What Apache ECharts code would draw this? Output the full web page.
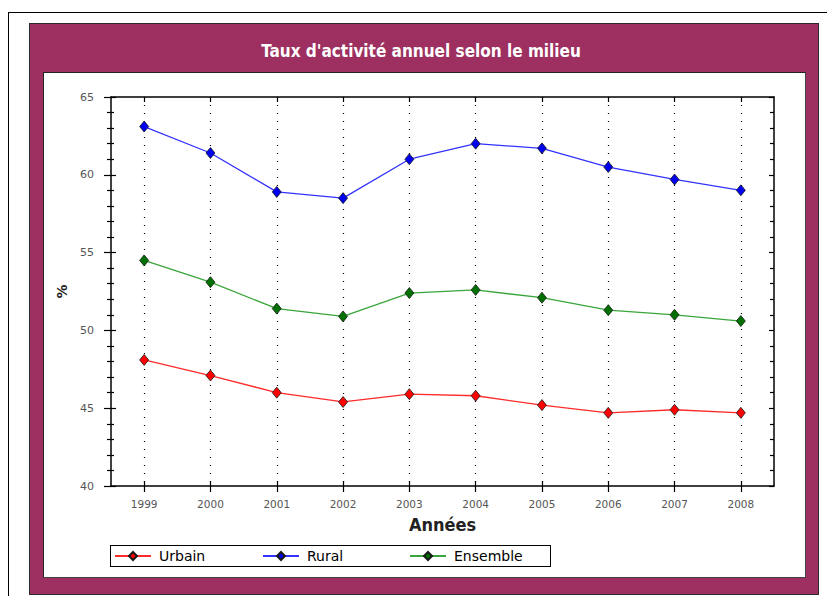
<!DOCTYPE html>
<html>
<head>
<meta charset="utf-8">
<script src="https://cdn.jsdelivr.net/npm/echarts@6/dist/echarts.min.js"></script>
<style>
  html, body { margin: 0; padding: 0; background: #fff; }
  #wrap { position: relative; width: 827px; height: 596px; overflow: hidden; }
  .outer { position: absolute; left: 8px; top: 12px; width: 840px; height: 620px; border: 1.5px solid #000; box-sizing: border-box; }
  .maroon { position: absolute; left: 29px; top: 23px; width: 790px; height: 572px; background: #9d3060; border: 1px solid #2a2a2a; box-sizing: border-box; }
  .inner { position: absolute; left: 43px; top: 72px; width: 763px; height: 506px; background: #fff; border-left: 1.5px solid #222; border-top: 1.5px solid #222; border-right: 1.5px solid #444; border-bottom: 1.5px solid #444; box-sizing: border-box; }
  .legbox { position: absolute; left: 110px; top: 545px; width: 441px; height: 22px; border: 1.5px solid #000; box-sizing: border-box; }
  #chart { position: absolute; left: 0; top: 0; width: 827px; height: 596px; }
</style>
</head>
<body>
<div id="wrap">
  <div class="outer"></div>
  <div class="maroon"></div>
  <div class="inner"></div>
  <div class="legbox"></div>
  <div id="chart"></div>
</div>
<script>
const titleText = "Taux d'activité annuel selon le milieu";
const years = ['1999','2000','2001','2002','2003','2004','2005','2006','2007','2008'];
const urbain = [48.1, 47.1, 46.0, 45.4, 45.9, 45.8, 45.2, 44.7, 44.9, 44.7];
const rural = [63.1, 61.4, 58.9, 58.5, 61.0, 62.0, 61.7, 60.5, 59.7, 59.0];
const ensemble = [54.5, 53.1, 51.4, 50.9, 52.4, 52.6, 52.1, 51.3, 51.0, 50.6];
const seriesNames = ['Urbain', 'Rural', 'Ensemble'];
const yTicks = { min: 40, max: 65, interval: 5 };

const chart = echarts.init(document.getElementById('chart'), null, { renderer: 'svg' });

const labelColor = '#555';
const gridBox = { left: 111, top: 97, width: 663, height: 389 };
const narrowFont = "'Liberation Sans Narrow', 'DejaVu Sans Condensed', sans-serif";

function mkSeries(name, data, lineColor, fill) {
  return {
    name: name, type: 'line', data: data,
    xAxisIndex: 0, yAxisIndex: 0,
    symbol: 'diamond', symbolSize: [9, 11],
    lineStyle: { color: lineColor, width: 1.3 },
    itemStyle: { color: fill, borderColor: '#1a1a1a', borderWidth: 0.8 },
    emphasis: { disabled: true },
    animation: false, z: 5
  };
}

const legendCommon = {
  top: 549, padding: 0, itemWidth: 36, itemHeight: 10, itemGap: 0,
  textStyle: { fontFamily: 'DejaVu Sans', fontSize: 14, color: '#000', padding: [0, 0, 0, 3] }
};

const option = {
  animation: false,
  title: {
    text: titleText, left: 416, textAlign: 'center', top: 37,
    textStyle: { fontFamily: narrowFont, fontWeight: 'bold', fontSize: 17, color: '#fff' }
  },
  legend: [
    Object.assign({ left: 114, data: [seriesNames[0]] }, legendCommon),
    Object.assign({ left: 262, data: [seriesNames[1]] }, legendCommon),
    Object.assign({ left: 409, data: [seriesNames[2]] }, legendCommon)
  ],
  grid: Object.assign({ containLabel: false }, gridBox),
  xAxis: [
    {
      type: 'category', data: years, position: 'bottom', boundaryGap: true,
      name: 'Années', nameLocation: 'middle', nameGap: 29,
      nameTextStyle: { fontFamily: narrowFont, fontWeight: 'bold', fontSize: 18, color: '#222' },
      axisLine: { lineStyle: { color: '#000', width: 1.5 } },
      axisTick: { show: true, inside: false, length: 6, alignWithLabel: true, lineStyle: { color: '#000', width: 1.2 } },
      axisLabel: { margin: 12, color: labelColor, fontFamily: 'DejaVu Sans', fontSize: 10.5 },
      splitLine: { show: true, alignWithLabel: true, lineStyle: { color: '#000', type: [1, 7], width: 1.2 } }
    },
    {
      type: 'category', data: years, position: 'top', boundaryGap: true,
      axisLine: { lineStyle: { color: '#000', width: 1.5 } },
      axisTick: { show: true, inside: true, length: 5, alignWithLabel: true, lineStyle: { color: '#000', width: 1.2 } },
      axisLabel: { show: false }, splitLine: { show: false }
    },
    {
      type: 'category', data: years, position: 'bottom', boundaryGap: true,
      axisLine: { show: false },
      axisTick: { show: true, inside: true, length: 5, alignWithLabel: true, lineStyle: { color: '#000', width: 1.2 } },
      axisLabel: { show: false }, splitLine: { show: false }
    }
  ],
  yAxis: [
    {
      type: 'value', position: 'left', min: yTicks.min, max: yTicks.max, interval: yTicks.interval,
      name: '%', nameLocation: 'middle', nameGap: 42, nameRotate: 90,
      nameTextStyle: { fontFamily: "'DejaVu Sans'", fontWeight: 'bold', fontSize: 14, color: '#222' },
      axisLine: { show: true, lineStyle: { color: '#000', width: 1.5 } },
      axisTick: { show: true, inside: false, length: 7, lineStyle: { color: '#000', width: 1.2 } },
      minorTick: { show: true, splitNumber: 5, length: 4, lineStyle: { color: '#000', width: 1.2 } },
      axisLabel: { margin: 17, color: labelColor, fontFamily: 'DejaVu Sans', fontSize: 11 },
      splitLine: { show: false }
    },
    {
      type: 'value', position: 'right', min: yTicks.min, max: yTicks.max, interval: yTicks.interval,
      axisLine: { show: true, lineStyle: { color: '#000', width: 1.5 } },
      axisTick: { show: true, inside: true, length: 5, lineStyle: { color: '#000', width: 1.2 } },
      minorTick: { show: true, splitNumber: 5, length: 4, lineStyle: { color: '#000', width: 1.2 } },
      axisLabel: { show: false }, splitLine: { show: false }
    },
    {
      type: 'value', position: 'left', min: yTicks.min, max: yTicks.max, interval: yTicks.interval,
      axisLine: { show: false },
      axisTick: { show: true, inside: true, length: 5, lineStyle: { color: '#000', width: 1.2 } },
      minorTick: { show: true, splitNumber: 5, length: 3, lineStyle: { color: '#000', width: 1.2 } },
      axisLabel: { show: false }, splitLine: { show: false }
    }
  ],
  series: [
    mkSeries(seriesNames[0], urbain, '#ff2a2a', '#ff0000'),
    mkSeries(seriesNames[1], rural, '#3333ff', '#0000ee'),
    mkSeries(seriesNames[2], ensemble, '#3aa53a', '#007000')
  ]
};
chart.setOption(option);
</script>
</body>
</html>
